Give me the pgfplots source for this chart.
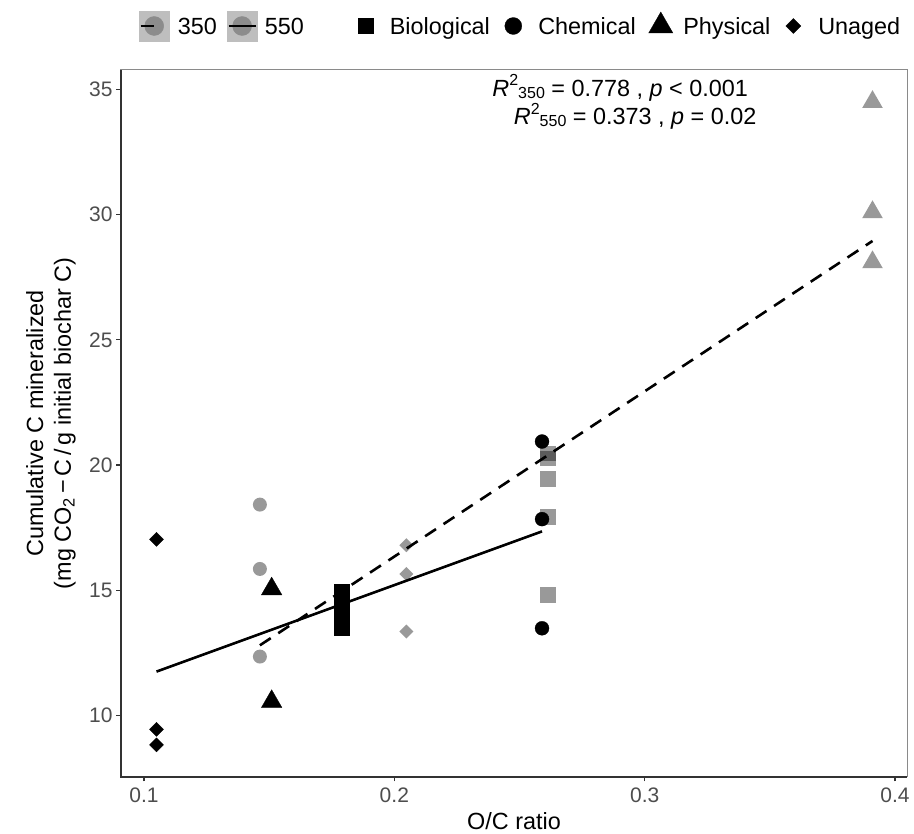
\documentclass[border=0pt]{standalone}
\usepackage{fontspec}
\setmainfont{Liberation Sans}
\usepackage{pgfplots}
\pgfplotsset{compat=1.18}

\definecolor{tickgrey}{HTML}{4D4D4D}
\definecolor{keybg}{HTML}{BEBEBE}
\definecolor{keypt}{HTML}{8C8C8C}
\definecolor{boxgrey}{HTML}{8A8A8A}

\newcommand{\txt}{\fontsize{23.4pt}{28pt}\selectfont}
\newcommand{\scr}{\fontsize{16pt}{18pt}\selectfont}

\tikzset{
  g350/.style={fill=black, fill opacity=0.4, draw opacity=0},
  g550/.style={fill=black, draw=black, line width=0.3pt},
}
\pgfplotsset{pts/.style={only marks, forget plot}}

\begin{document}
\begin{tikzpicture}
\useasboundingbox (0,0) rectangle (914pt,834pt);
\begin{axis}[
  at={(120.7pt,57pt)}, anchor=south west,
  scale only axis, width=786.6pt, height=707pt,
  xmin=0.0907, xmax=0.4049, ymin=7.54, ymax=35.78,
  xtick={0.1,0.2,0.3,0.4}, xticklabels={0.1,0.2,0.3,0.4},
  ytick={10,15,20,25,30,35}, yticklabels={10,15,20,25,30,35},
  tick pos=left, tick align=outside, major tick length=4.5pt,
  tick style={color=black!80, line width=1.2pt},
  axis line style={boxgrey, line width=1pt},
  ticklabel style={font=\fontsize{21pt}{24pt}\selectfont, text=tickgrey, inner sep=0pt},
  xticklabel style={anchor=north, yshift=-6.5pt},
  yticklabel style={anchor=east, xshift=-3.5pt},
  clip=false,
  legend columns=6, legend cell align=left,
  legend style={at={(0.02327,1.06223)}, anchor=west, draw=none, fill=none,
    inner sep=0pt, outer sep=0pt, font=\txt,
    nodes={inner sep=0pt, text depth=0pt}, /tikz/column sep=0pt},
]
% legend keys
\addlegendimage{legend image code/.code={
  \fill[keybg] (0pt,-15pt) rectangle (30pt,15pt);
  \fill[keypt] (15pt,0pt) circle[radius=9.5pt];
  \draw[black, line width=2.6pt] (1.5pt,0pt) -- (15pt,0pt);}}
\addlegendentry{\makebox[57.5pt][l]{\hspace{8.5pt}350}}
\addlegendimage{legend image code/.code={
  \fill[keybg] (0pt,-15pt) rectangle (30pt,15pt);
  \fill[keypt] (15pt,0pt) circle[radius=9.5pt];
  \draw[black, line width=2.6pt] (1.5pt,0pt) -- (28.5pt,0pt);}}
\addlegendentry{\makebox[93.5pt][l]{\hspace{7.5pt}550}}
\addlegendimage{legend image code/.code={
  \path[draw=none, fill=none] (0pt,-15pt) rectangle (30pt,15pt);
  \path[only marks, mark=square*, mark size=7.5pt, mark options={g550}] plot coordinates {(15pt,0pt)};}}
\addlegendentry{\makebox[117.5pt][l]{\hspace{9pt}Biological}}
\addlegendimage{legend image code/.code={
  \path[draw=none, fill=none] (0pt,-15pt) rectangle (30pt,15pt);
  \path[only marks, mark=*, mark size=8.5pt, mark options={g550}] plot coordinates {(15pt,0pt)};}}
\addlegendentry{\makebox[117.5pt][l]{\hspace{10pt}Chemical}}
\addlegendimage{legend image code/.code={
  \path[draw=none, fill=none] (0pt,-15pt) rectangle (30pt,15pt);
  \path[only marks, mark=triangle*, mark size=14pt, mark options={g550}] plot coordinates {(15pt,0pt)};}}
\addlegendentry{\makebox[102.5pt][l]{\hspace{7.5pt}Physical}}
\addlegendimage{legend image code/.code={
  \path[draw=none, fill=none] (0pt,-15pt) rectangle (30pt,15pt);
  \path[only marks, mark=square*, mark size=5.3pt, mark options={g550, rotate=45}] plot coordinates {(15pt,0pt)};}}
\addlegendentry{\hspace{10pt}Unaged}

% 350 (grey)
\addplot[pts, mark=*, mark size=7pt, mark options={g350}] coordinates {(0.1463,18.42) (0.1463,15.85) (0.1463,12.35)};
\addplot[pts, mark=square*, mark size=4.95pt, mark options={g350, rotate=45}] coordinates {(0.2048,16.80) (0.2048,15.65) (0.2048,13.35)};
\addplot[pts, mark=square*, mark size=7.8pt, mark options={g350}] coordinates {(0.2614,20.46) (0.2614,20.26) (0.2614,19.45) (0.2614,17.92) (0.2614,14.82)};
\addplot[pts, mark=triangle*, mark size=11.9pt, mark options={g350}] coordinates {(0.391,34.50) (0.391,30.10) (0.391,28.10)};

% 550 (black)
\addplot[pts, mark=square*, mark size=4.95pt, mark options={g550, rotate=45}] coordinates {(0.105,17.03) (0.105,9.44) (0.105,8.82)};
\addplot[pts, mark=triangle*, mark size=11.9pt, mark options={g550}] coordinates {(0.151,15.05) (0.151,10.55)};
\addplot[pts, mark=square*, mark size=7.6pt, mark options={g550}] coordinates {(0.179,14.95) (0.179,14.47) (0.179,13.98) (0.179,13.50)};
\addplot[pts, mark=*, mark size=7pt, mark options={g550}] coordinates {(0.259,20.94) (0.259,17.84) (0.259,13.48)};

% fitted lines
\addplot[black, line width=2.6pt, forget plot] coordinates {(0.105,11.75) (0.259,17.35)};
\addplot[black, line width=2.6pt, dash pattern=on 13pt off 9pt, forget plot] coordinates {(0.1463,12.80) (0.391,28.95)};

\draw[black!80, line width=1.6pt] (rel axis cs:0,1) -- (rel axis cs:0,0) -- (rel axis cs:1,0);

\node[anchor=base west, inner sep=0pt, font=\txt] at (axis cs:0.2391,34.72)
  {\textit{R}\raisebox{0.45em}{\scr 2}\raisebox{-0.1em}{\scr 350} = 0.778 , \textit{p} < 0.001};
\node[anchor=base west, inner sep=0pt, font=\txt] at (axis cs:0.2477,33.60)
  {\textit{R}\raisebox{0.42em}{\scr 2}\raisebox{-0.1em}{\scr 550} = 0.373 , \textit{p} = 0.02};
\end{axis}

\node[rotate=90, anchor=base, inner sep=0pt, font=\txt] at (43pt,410.5pt) {Cumulative C mineralized};
\node[rotate=90, anchor=base, inner sep=0pt, font=\txt] at (71pt,410.5pt)
  {(mg CO\textsubscript{2}\,−\,C\,/\,g initial biochar C)};
\node[anchor=base, inner sep=0pt, font=\txt] at (514pt,4pt) {O/C ratio};
\end{tikzpicture}
\end{document}
